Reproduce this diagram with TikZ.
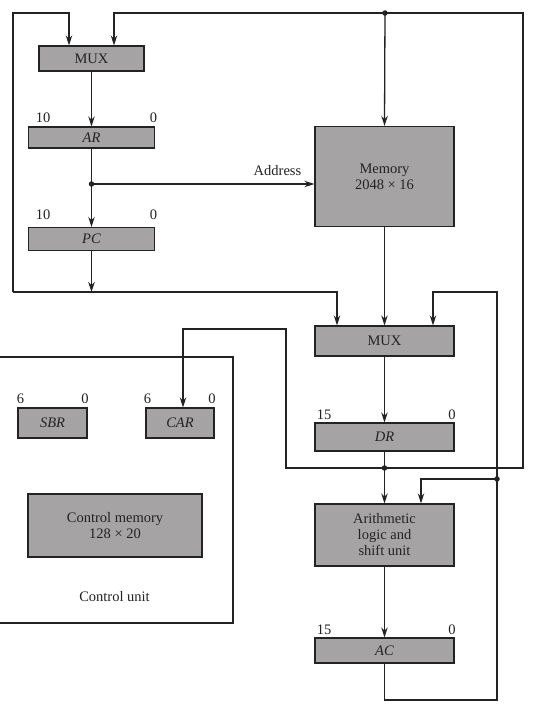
\documentclass[tikz,border=0pt]{standalone}
\usepackage{fontspec}
\setmainfont{Liberation Serif}
\usetikzlibrary{arrows.meta}
\definecolor{boxgray}{RGB}{165,163,163}
\definecolor{ink}{RGB}{35,35,35}
\begin{document}
\begin{tikzpicture}[x=1pt,y=-1pt,
  reg/.style={draw=ink, fill=boxgray, line width=1.3pt, inner sep=0pt,
              font=\fontsize{14.5}{16}\selectfont, text=ink, align=center},
  wire/.style={draw=ink, line width=1.3pt},
  arr/.style={wire, -{Stealth[length=10pt,width=6.5pt]}},
  lbl/.style={font=\fontsize{14.5}{16}\selectfont, inner sep=0pt, text=ink},
  jdot/.style={circle, fill=ink, inner sep=0pt, minimum size=5.5pt}]
\useasboundingbox (0,0) rectangle (533,710);
\clip (0,0) rectangle (533,710);
\fill[white] (0,0) rectangle (533,710);

% ---- registers and blocks
\node[reg, minimum width=105, minimum height=25] (mux1) at (91.5,58.5) {MUX};
\node[reg, minimum width=126, minimum height=21] (ar) at (91.5,137.5) {\itshape AR};
\node[reg, minimum width=126, minimum height=23] (pc) at (91.5,239) {\itshape PC};
\node[reg, minimum width=139, minimum height=100] (mem) at (384.5,176.5) {Memory\\2048 × 16};
\node[reg, minimum width=139, minimum height=30] (mux2) at (384.5,341) {MUX};
\node[reg, minimum width=139, minimum height=28] (dr) at (384.5,437) {\itshape DR};
\node[reg, minimum width=139, minimum height=62] (alu) at (384.5,535) {Arithmetic\\logic and\\shift unit};
\node[reg, minimum width=139, minimum height=25] (ac) at (384.5,650.5) {\itshape AC};
\node[reg, minimum width=69, minimum height=30] (sbr) at (52.5,423) {\itshape SBR};
\node[reg, minimum width=68, minimum height=30] (car) at (180,423) {\itshape CAR};
\node[reg, minimum width=174, minimum height=63] (cm) at (115,525.5) {Control memory\\128 × 20};

% ---- control unit frame
\draw[wire] (-10,357) -- (233,357) -- (233,623) -- (-10,623);
\node[lbl] (cul) at (114.5,597) {Control unit};

% ---- bit labels
\node[lbl] (arh) at (43,118) {10};  \node[lbl] (arl) at (153.5,118) {0};
\node[lbl] (pch) at (43,215) {10};  \node[lbl] (pcl) at (153.5,215) {0};
\node[lbl] (drh) at (324,415) {15}; \node[lbl] (drl) at (452,415) {0};
\node[lbl] (ach) at (324,630) {15}; \node[lbl] (acl) at (452,630) {0};
\node[lbl] (sbrh) at (20.5,399) {6}; \node[lbl] (sbrl) at (85,399) {0};
\node[lbl] (carh) at (147.5,399) {6}; \node[lbl] (carl) at (212,399) {0};
\node[lbl] (addr) at (277.5,171) {Address};

% ---- junction coordinates
\coordinate (tl) at (13,13);
\coordinate (bl) at (13,292);
\coordinate (jtop) at (385,13);
\coordinate (tr) at (523,13);
\coordinate (jar) at (91.5,184);
\coordinate (jdr) at (384.5,468);
\coordinate (jac) at (497,479);
\coordinate (bot) at (497,700);

% ---- AR / PC bus
\draw[arr] (mux1.south) -- (ar.north);
\draw[arr] (ar.south) -- (pc.north);
\draw[arr] (jar) -- (mem.west |- jar);
\draw[arr] (pc.south) -- (pc.south |- bl);
\draw[arr] (bl) -- (tl) -- (69,13) -- (69,0 |- mux1.north);
\draw[arr] (bl) -- (337,292) -- (337,0 |- mux2.north);

% ---- DR feedback to memory, MUX and CAR
\draw[arr] (jdr) -- (tr |- jdr) -- (tr) -- (114,13) -- (114,0 |- mux1.north);
\draw[arr] (jtop) -- (mem.north);
\draw[arr] (jdr) -- (286,468) -- (286,329) -- (183,329) -- (183,0 |- car.north);

% ---- data path
\draw[arr] (mem.south) -- (mux2.north);
\draw[arr] (mux2.south) -- (dr.north);
\draw[arr] (dr.south) -- (alu.north);
\draw[arr] (alu.south) -- (ac.north);

% ---- AC feedback
\draw[wire] (ac.south) -- (ac.south |- bot) -- (bot) -- (jac);
\draw[arr] (jac) -- (421,479) -- (421,0 |- alu.north);
\draw[arr] (jac) -- (497,292) -- (433,292) -- (433,0 |- mux2.north);

% ---- dots
\node[jdot] (d1) at (jar) {};
\node[jdot] (d2) at (jtop) {};
\node[jdot] (d3) at (jdr) {};
\node[jdot] (d4) at (jac) {};
\end{tikzpicture}
\end{document}
